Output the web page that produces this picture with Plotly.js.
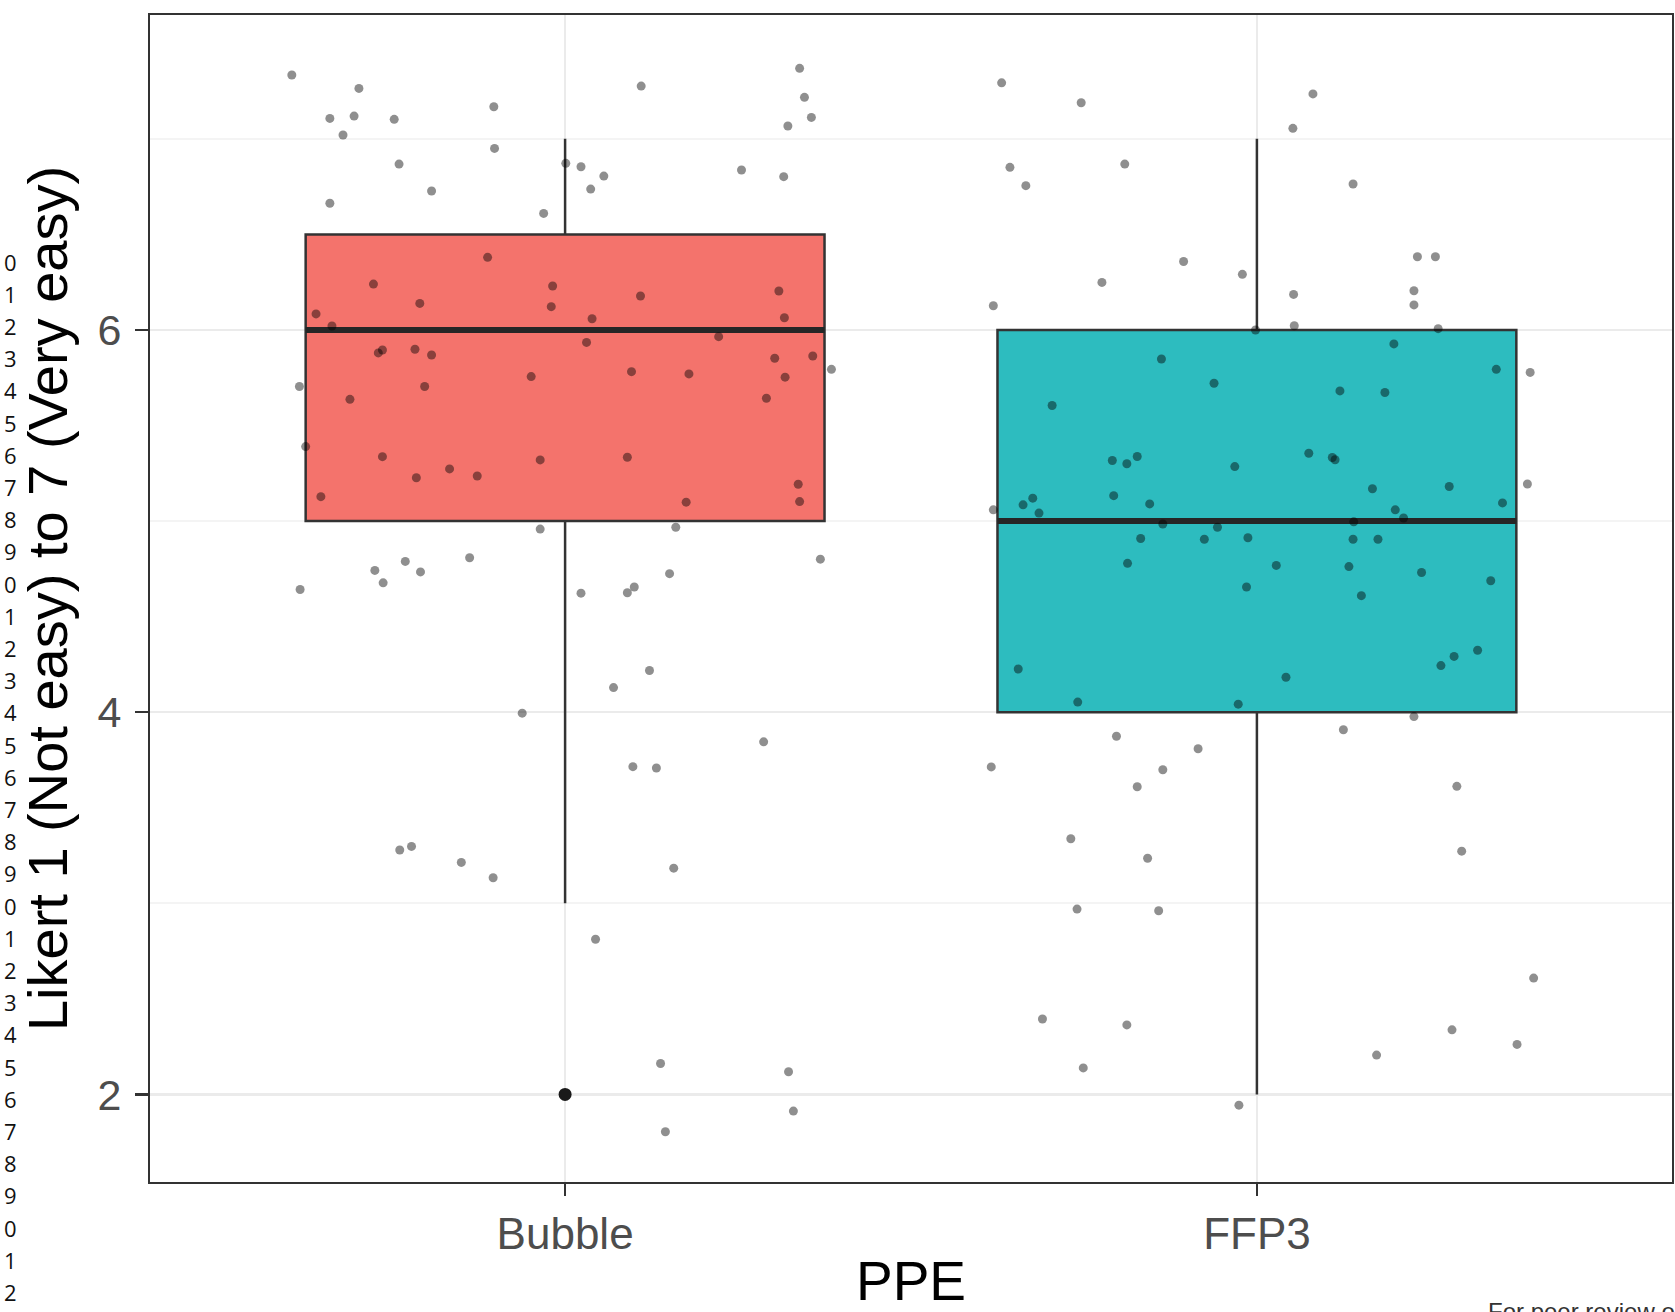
<!DOCTYPE html>
<html>
<head>
<meta charset="utf-8">
<script src="https://cdn.plot.ly/plotly-3.0.1.min.js"></script>
<style>
  html, body { margin: 0; padding: 0; background: #ffffff; overflow: hidden; }
  #chart { width: 1675px; height: 1312px; }
</style>
</head>
<body>
<div id="chart"></div>
<script>
// PPE groups and their box statistics (Likert 1-7 ease ratings)
const categories = ['Bubble', 'FFP3'];
const boxColors = ['#F4736C', '#2DBCBF'];
const q1 = [5, 4];
const median = [6, 5];
const q3 = [6.5, 6];
const lowerWhisker = [3, 2];
const upperWhisker = [7, 7];
const outliers = [[2], []];

// Individual responses, jittered (x = jittered category position, y = jittered rating)
const bubbleX = [
  -0.395, -0.298, -0.340, -0.305, -0.321, -0.247, -0.103, -0.102, -0.240, -0.193, -0.340,
   0.110,  0.339,  0.346,  0.356,  0.322,  0.001,  0.023,  0.056,  0.037, -0.031,  0.255, 0.316,
  -0.112, -0.277, -0.018, -0.210, -0.020,  0.109,  0.309,  0.317, -0.360, -0.337,  0.039,
   0.031,  0.222, -0.270, -0.264, -0.217, -0.193,  0.303,  0.358,  0.385, -0.384, -0.203,
  -0.049,  0.096,  0.179,  0.318,  0.291, -0.311, -0.375, -0.264, -0.215, -0.167, -0.127,
  -0.036,  0.090, -0.353,  0.175,  0.337,  0.339,
  -0.036,  0.160,  0.369, -0.383, -0.275, -0.263, -0.231, -0.209, -0.138,  0.023,  0.090,
   0.100,  0.151,  0.122,  0.070, -0.062,  0.287,  0.098,  0.132, -0.239, -0.222, -0.150,
  -0.104,  0.157,  0.044,  0.138,  0.323,  0.330,  0.145
];
const bubbleY = [
  7.334, 7.264, 7.107, 7.119, 7.020, 7.102, 7.168, 6.950, 6.868, 6.727, 6.663,
  7.276, 7.369, 7.217, 7.112, 7.067, 6.872, 6.854, 6.805, 6.737, 6.610, 6.837, 6.802,
  6.380, 6.240, 6.230, 6.139, 6.122, 6.178, 6.204, 6.064, 6.084, 6.021, 6.059,
  5.935, 5.965, 5.880, 5.895, 5.899, 5.869, 5.852, 5.864, 5.794, 5.704, 5.704,
  5.756, 5.782, 5.770, 5.753, 5.643, 5.637, 5.390, 5.337, 5.227, 5.273, 5.236,
  5.320, 5.334, 5.128, 5.099, 5.193, 5.102,
  4.958, 4.968, 4.801, 4.642, 4.742, 4.677, 4.789, 4.734, 4.808, 4.623, 4.625,
  4.655, 4.725, 4.218, 4.129, 3.995, 3.845, 3.715, 3.708, 3.279, 3.298, 3.214,
  3.134, 3.184, 2.812, 2.162, 2.119, 1.913, 1.805
];
const ffp3X = [
  0.631, 0.746, 1.081, 1.052, 0.643, 0.666, 0.809, 1.139, 0.894, 0.776, 0.979,
  0.619, 1.232, 1.258, 1.227, 1.227, 1.053, 1.054, 1.262, 0.998,
  1.198, 0.862, 1.346, 1.395, 0.938, 1.120, 1.185, 0.704, 0.791, 0.812, 0.827,
  0.968, 1.075, 1.109, 1.113, 1.278, 1.167, 1.391, 0.793, 0.845, 1.355, 0.619,
  0.662, 0.676, 0.685, 1.200, 1.212,
  0.864, 0.943, 1.140, 0.832, 0.924, 0.987, 1.139, 1.175, 0.813, 1.028, 1.133,
  1.238, 1.338, 0.985, 1.151, 0.655, 1.042, 1.266, 1.285, 1.319, 0.741, 0.973,
  1.227, 1.125, 0.797, 0.915, 0.616, 0.864, 0.827, 1.289, 0.731, 0.842, 1.296,
  0.740, 0.858, 1.400, 0.690, 0.812, 1.282, 1.376, 1.173, 0.749, 0.974
];
const ffp3Y = [
  7.293, 7.189, 7.235, 7.055, 6.851, 6.755, 6.868, 6.764, 6.358, 6.249, 6.291,
  6.127, 6.383, 6.383, 6.205, 6.131, 6.186, 6.022, 6.007, 6.000,
  5.927, 5.848, 5.794, 5.778, 5.721, 5.681, 5.673, 5.605, 5.317, 5.300, 5.338,
  5.285, 5.355, 5.333, 5.321, 5.181, 5.169, 5.194, 5.133, 5.090, 5.095, 5.059,
  5.085, 5.120, 5.042, 5.059, 5.016,
  4.985, 4.968, 4.996, 4.909, 4.905, 4.913, 4.905, 4.905, 4.779, 4.768, 4.762,
  4.731, 4.688, 4.655, 4.610, 4.226, 4.183, 4.244, 4.292, 4.324, 4.053, 4.042,
  3.977, 3.908, 3.874, 3.809, 3.714, 3.699, 3.610, 3.612, 3.338, 3.236, 3.273,
  2.970, 2.961, 2.609, 2.395, 2.364, 2.338, 2.262, 2.206, 2.139, 1.944
];

// Margin line numbers of the manuscript page and footer
const lineNumbers = ['0','1','2','3','4','5','6','7','8','9','0','1','2','3','4','5','6',
                     '7','8','9','0','1','2','3','4','5','6','7','8','9','0','1','2','3'];
const footerText = 'For peer review only';

const boxWidth = 0.75;
const outlineColor = '#333333';

const traces = [];

// Boxes from the precomputed statistics
categories.forEach((cat, i) => {
  traces.push({
    type: 'box',
    name: cat,
    x: [i],
    q1: [q1[i]],
    median: [median[i]],
    q3: [q3[i]],
    lowerfence: [lowerWhisker[i]],
    upperfence: [upperWhisker[i]],
    width: boxWidth,
    whiskerwidth: 0,
    boxpoints: false,
    fillcolor: boxColors[i],
    line: { color: outlineColor, width: 2.5 },
    hoverinfo: 'skip'
  });
});

// Thicker median bars on top of each box
categories.forEach((cat, i) => {
  traces.push({
    type: 'scatter',
    mode: 'lines',
    x: [i - boxWidth / 2, i + boxWidth / 2],
    y: [median[i], median[i]],
    line: { color: '#262626', width: 6 },
    hoverinfo: 'skip'
  });
});

// Jittered individual ratings
[[bubbleX, bubbleY], [ffp3X, ffp3Y]].forEach(([xs, ys]) => {
  traces.push({
    type: 'scatter',
    mode: 'markers',
    x: xs,
    y: ys,
    marker: { size: 9, color: 'rgba(0,0,0,0.44)', line: { width: 0 } },
    hoverinfo: 'skip'
  });
});

// Box-plot outliers
categories.forEach((cat, i) => {
  if (!outliers[i].length) return;
  traces.push({
    type: 'scatter',
    mode: 'markers',
    x: outliers[i].map(() => i),
    y: outliers[i],
    marker: { size: 13, color: '#1a1a1a', line: { width: 0 } },
    hoverinfo: 'skip'
  });
});

// Page furniture: line numbers down the left edge, footer at bottom right
const W = 1675, H = 1312;
const margin = { l: 150, r: 3, t: 15, b: 130 };
const plotW = W - margin.l - margin.r;
const plotH = H - margin.t - margin.b;
const annotations = lineNumbers.map((txt, k) => ({
  text: txt,
  xref: 'paper', yref: 'paper',
  x: (2 - margin.l) / plotW,
  y: (H - margin.b - (261.5 + 32.2 * k)) / plotH,
  xanchor: 'left', yanchor: 'middle',
  showarrow: false,
  font: { family: '"Open Sans", "DejaVu Sans", sans-serif', size: 22, color: '#111111' }
}));
annotations.push({
  text: footerText,
  xref: 'paper', yref: 'paper',
  x: (1486 - margin.l) / plotW,
  y: (H - margin.b - 1296) / plotH,
  xanchor: 'left', yanchor: 'top',
  showarrow: false,
  font: { family: '"Liberation Sans", Arial, sans-serif', size: 24, color: '#333333' }
});

const layout = {
  width: W,
  height: H,
  margin: { l: margin.l, r: margin.r, t: margin.t, b: margin.b, pad: 0 },
  paper_bgcolor: '#ffffff',
  plot_bgcolor: '#ffffff',
  showlegend: false,
  boxmode: 'overlay',
  font: { family: '"Liberation Sans", Arial, Helvetica, sans-serif' },
  xaxis: {
    range: [-0.6, 1.6],
    tickvals: [0, 1],
    ticktext: categories,
    showgrid: true,
    gridcolor: '#EBEBEB',
    gridwidth: 2.5,
    zeroline: false,
    showline: true,
    mirror: true,
    linecolor: outlineColor,
    linewidth: 2,
    ticks: 'outside',
    ticklen: 12,
    tickwidth: 2.5,
    tickcolor: outlineColor,
    tickfont: { size: 44, color: '#4D4D4D' },
    title: { text: 'PPE', font: { size: 55, color: '#000000' }, standoff: 15 }
  },
  yaxis: {
    range: [1.542, 7.648],
    tickvals: [2, 4, 6],
    ticktext: ['2', '4', '6'],
    showgrid: true,
    gridcolor: '#EBEBEB',
    gridwidth: 2.5,
    minor: { tickvals: [3, 5, 7], showgrid: true, gridcolor: '#F4F4F4', gridwidth: 2, ticks: '' },
    zeroline: false,
    showline: true,
    mirror: true,
    linecolor: outlineColor,
    linewidth: 2,
    ticks: 'outside',
    ticklen: 13,
    tickwidth: 2.5,
    tickcolor: outlineColor,
    ticklabelstandoff: 5,
    tickfont: { size: 43, color: '#4D4D4D' },
    title: { text: 'Likert 1 (Not easy) to 7 (Very easy)', font: { size: 56, color: '#000000' }, standoff: 12 }
  },
  annotations: annotations
};

Plotly.newPlot('chart', traces, layout, { displayModeBar: false, staticPlot: true });
</script>
</body>
</html>
